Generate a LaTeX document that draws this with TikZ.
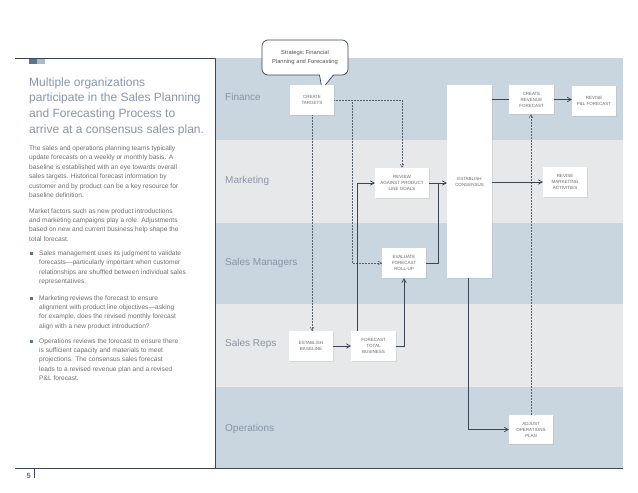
\documentclass[tikz,border=0pt]{standalone}
\usepackage{fontspec}
\setmainfont{Liberation Sans}
\usetikzlibrary{arrows}
\usetikzlibrary{shadows}

\definecolor{lanebl}{HTML}{C9D6DF}
\definecolor{lanegr}{HTML}{E7E8EA}
\definecolor{inkdk}{HTML}{3A4652}
\definecolor{lanetxt}{HTML}{8596A8}
\definecolor{bodytxt}{HTML}{6E6E6E}
\definecolor{boxtxt}{HTML}{6A6A6A}
\definecolor{slate}{HTML}{5C7388}
\definecolor{slatelt}{HTML}{A9BCCB}

\tikzset{
  stepbox/.style={fill=white, minimum width=44pt, minimum height=30pt, inner sep=1pt,
    align=center, text=boxtxt, font=\fontsize{4.5}{6}\selectfont,
    drop shadow={opacity=0.18, shadow xshift=0.7pt, shadow yshift=-0.7pt}},
  flow/.style={draw=inkdk, line width=0.7pt, ->, >=angle 60},
  link/.style={draw=inkdk, line width=0.7pt},
  dotflow/.style={draw=inkdk!85, line width=0.5pt, densely dotted, ->, >=angle 60},
  lanelabel/.style={anchor=west, inner sep=0, text=lanetxt, font=\fontsize{10}{12}\selectfont},
  bodytext/.style={anchor=base west, inner sep=0, align=left, text=bodytxt,
    font=\fontsize{6.6}{9.4}\selectfont},
  bulletsq/.style={fill=slate, inner sep=0, minimum size=3pt},
}

\begin{document}
\begin{tikzpicture}[x=1pt, y=-1pt]
        \useasboundingbox (0,0) rectangle (638,493);

        % swimlanes
        \fill[lanebl] (215,58) rectangle (623,140);
        \fill[lanegr] (215,140) rectangle (623,223);
        \fill[lanebl] (215,223) rectangle (623,304);
        \fill[lanegr] (215,304) rectangle (623,387);
        \fill[lanebl] (215,387) rectangle (623,468);

        \draw[inkdk, line width=0.8pt] (15,58.5) -- (215,58.5) -- (215,468);
        \draw[inkdk, line width=0.8pt] (15,468.5) -- (623,468.5);
        \draw[inkdk, line width=0.6pt] (34,468.5) -- (34,478);
        \fill[slate] (29,59) rectangle (37,64);
        \fill[slatelt] (37,59) rectangle (45,64);

        \node[lanelabel] (finance) at (225,97) {Finance};
        \node[lanelabel] (mkt) at (225,181) {Marketing};
        \node[lanelabel] (mgrs) at (225,263) {Sales Managers};
        \node[lanelabel] (reps) at (225,344) {Sales Reps};
        \node[lanelabel] (ops) at (225,429) {Operations};

        \node[anchor=base east, inner sep=0, text=slate, font=\fontsize{7.5}{9}\selectfont\bfseries] (pagenum) at (31,478) {5};

        % left column (anchored at the baseline of the last line)
        \node[anchor=base west, inner sep=0, align=left, text=lanetxt, font=\fontsize{12}{15.7}\selectfont] (headline) at (29,133.1)
          {Multiple organizations\\participate in the Sales Planning\\and Forecasting Process to\\arrive at a consensus sales plan.};
        \node[bodytext] (para1) at (29,197.5)
          {The sales and operations planning teams typically\\update forecasts on a weekly or monthly basis. A\\baseline is established with an eye towards overall\\sales targets. Historical forecast information by\\customer and by product can be a key resource for\\baseline definition.};
        \node[bodytext] (para2) at (29,241.2)
          {Market factors such as new product introductions\\and marketing campaigns play a role. Adjustments\\based on new and current business help shape the\\total forecast.};
        \node[bulletsq] (dot1) at (31.5,253.5) {};
        \node[bodytext] (item1) at (39,283.7)
          {Sales management uses its judgment to validate\\forecasts---particularly important when customer\\relationships are shuffled between individual sales\\representatives.};
        \node[bulletsq] (dot2) at (31.5,298) {};
        \node[bodytext] (item2) at (39,328.2)
          {Marketing reviews the forecast to ensure\\alignment with product line objectives---asking\\for example, does the revised monthly forecast\\align with a new product introduction?};
        \node[bulletsq] (dot3) at (31.5,341) {};
        \node[bodytext] (item3) at (39,380.6)
          {Operations reviews the forecast to ensure there\\is sufficient capacity and materials to meet\\projections. The consensus sales forecast\\leads to a revised revenue plan and a revised\\P\&L forecast.};

        % callout
        \node[draw=inkdk, line width=0.7pt, fill=white, rounded corners=6pt, minimum width=86pt, minimum height=35pt,
          align=center, text=boxtxt!80!black, font=\fontsize{5.8}{8.7}\selectfont] (strategic) at (305,57.5)
          {Strategic Financial\\Planning and Forecasting};
        \coordinate (tip) at (322,89);
        \fill[white] (319.5,74) -- (tip) -- (333.5,74) -- cycle;
        \draw[inkdk, line width=0.7pt, line join=round] (319.5,75) -- (tip) -- (333.5,75);

        % process boxes
        \node[stepbox] (targets) at (312,100) {CREATE\\TARGETS};
        \node[stepbox, minimum width=54pt] (review) at (402,183) {REVIEW\\AGAINST PRODUCT\\LINE GOALS};
        \node[stepbox, minimum width=45pt, minimum height=193pt] (consensus) at (469.5,181.5) {ESTABLISH\\CONSENSUS};
        \node[stepbox] (evaluate) at (404,263) {EVALUATE\\FORECAST\\ROLL-UP};
        \node[stepbox] (base) at (311,346) {ESTABLISH\\BASELINE};
        \node[stepbox, minimum width=45pt] (total) at (373.5,346) {FORECAST\\TOTAL\\BUSINESS};
        \node[stepbox, minimum width=45pt, minimum height=29pt] (revenue) at (531.5,99.5) {CREATE\\REVENUE\\FORECAST};
        \node[stepbox] (plrev) at (594,101) {REVISE\\P\&L FORECAST};
        \node[stepbox] (marketing) at (565,182) {REVISE\\MARKETING\\ACTIVITIES};
        \node[stepbox, minimum height=29pt] (adjust) at (531,429.5) {ADJUST\\OPERATIONS\\PLAN};

        % dotted links
        \coordinate (split) at (352,100);
        \draw[dotflow] (targets.south) -- (targets.south |- base.north);
        \draw[dotflow] (targets.east) -| (review.north);
        \draw[dotflow] (split) |- (evaluate.west);
        \draw[dotflow] (adjust.north) -- (adjust.north |- revenue.south);

        % solid links
        \coordinate (join) at (438,183);
        \draw[flow] (base.east) -- (total.west);
        \draw[flow] ([xshift=-16.5pt]total.north) |- (review.west);
        \draw[flow] (total.east) -| (evaluate.south);
        \draw[link] (evaluate.east) -| (join);
        \draw[flow] (review.east) -- (review.east -| consensus.west);
        \draw[link] (consensus.east |- revenue.west) -- (revenue.west);
        \draw[flow] (revenue.east) -- (revenue.east -| plrev.west);
        \draw[flow] (consensus.east |- marketing.west) -- (marketing.west);
        \draw[flow] ([xshift=-1.5pt]consensus.south) |- (adjust.west);
    \end{tikzpicture}
\end{document}
